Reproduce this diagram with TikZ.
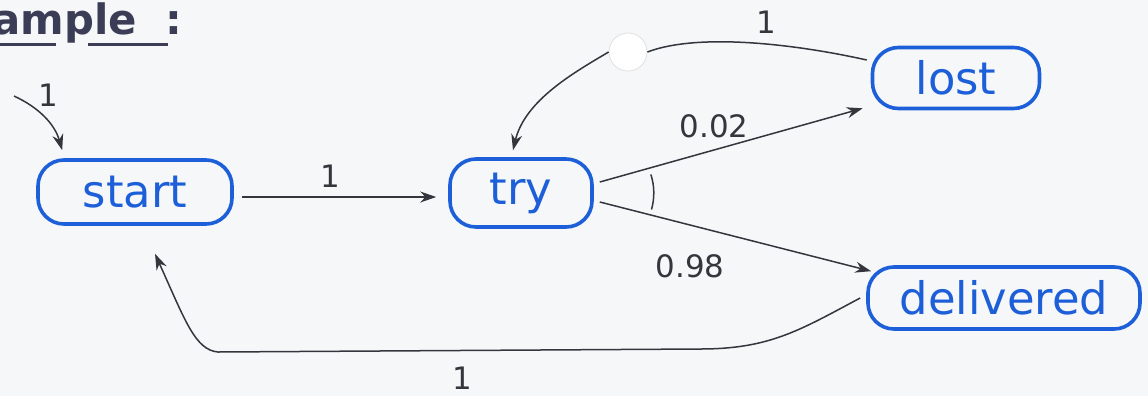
\documentclass[tikz,border=0pt]{standalone}
\usepackage{fontspec}
\setmainfont{DejaVu Sans}
\usetikzlibrary{arrows.meta}
\definecolor{penblue}{HTML}{1D5FD8}
\definecolor{ink}{HTML}{35363D}
\definecolor{paper}{HTML}{F6F7F9}
\definecolor{titleink}{HTML}{3A3D55}
\begin{document}
\begin{tikzpicture}[x=1bp,y=-1bp,
  state/.style={draw=penblue, line width=3.6bp, rounded corners=26bp, text=penblue,
    font=\fontsize{45}{47}\selectfont, inner sep=0pt},
  edge/.style={draw=ink, line width=1.5bp, -{Stealth[length=16bp,width=11bp]}},
  plain/.style={draw=ink, line width=1.5bp},
  lbl/.style={text=ink, font=\fontsize{31}{33}\selectfont, inner sep=1pt}]
\fill[paper] (0,0) rectangle (1148,396);
\useasboundingbox (0,0) rectangle (1148,396);
% title
\node[anchor=base west, text=titleink, font=\bfseries\fontsize{42}{44}\selectfont, inner sep=0pt] (title) at (-8,34) {ample\,\, :};
\draw[titleink, line width=3bp] (0,44) -- (56,44) (88,44) -- (168,44);
% states
\node[state, minimum width=194bp, minimum height=64bp] (start) at (135,192) {start};
\node[state, minimum width=142bp, minimum height=68bp] (try) at (521,193) {try};
\node[state, minimum width=167bp, minimum height=61bp] (lost) at (956,78) {lost};
\node[state, minimum width=272bp, minimum height=62bp] (delivered) at (1004,298) {delivered};
% junction circle
\node[circle, fill=white, draw=black!12, line width=0.8bp, minimum size=38bp, inner sep=0pt] (circ) at (628,52) {};
% initial arrow
\coordinate (init) at (14,96);
\draw[edge] (init) .. controls (40,108) and (55,125) .. ([shift={(26,-8)}]start.north west);
\node[lbl] (l0) at (48,95) {1};
% start -> try
\draw[edge] (start.east) ++(8,5) coordinate (s1) -- ([shift={(-12,4)}]try.west);
\node[lbl] (l1) at (330,176) {1};
% try -> lost
\draw[edge] ([shift={(6,-11)}]try.east) -- ([shift={(-8,-2)}]lost.south west);
\node[lbl] (l2) at (714,126) {0.02};
% try -> delivered
\draw[edge] ([shift={(6,9)}]try.east) -- ([shift={(5,6)}]delivered.north west);
\node[lbl] (l3) at (690,266) {0.98};
% angle mark
\draw[plain] ([shift={(-18:60)}]try.east) arc[start angle=-18, end angle=16, radius=60];
% lost -> try via circle
\draw[plain] ([shift={(-4,-18)}]lost.west) .. controls (800,45) and (700,32) .. (circ.east);
\draw[edge] (circ.west) .. controls (575,72) and (525,100) .. ([shift={(-8,-7)}]try.north);
\node[lbl] (l4) at (766,22) {1};
% delivered -> start
\coordinate (d1) at (700,349);
\coordinate (d2) at (218,352);
\draw[edge] ([shift={(-6,0)}]delivered.west) .. controls (800,330) and (770,349) .. (d1) -- (d2)
  .. controls (195,350) and (185,320) .. ([shift={(20,28)}]start.south);
\node[lbl] (l5) at (462,378) {1};
\end{tikzpicture}
\end{document}
